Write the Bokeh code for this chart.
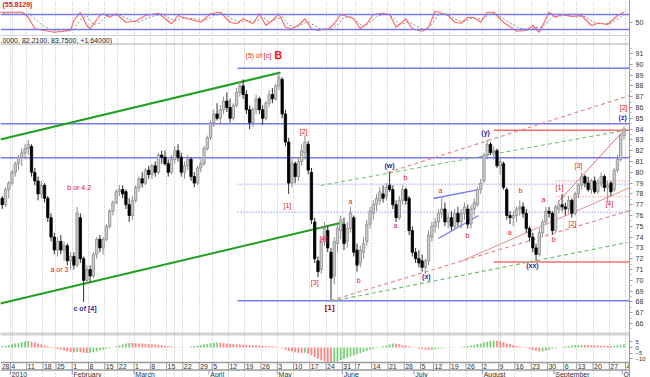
from bokeh.plotting import figure
from bokeh.layouts import column
from bokeh.models import Range1d, FixedTicker, Span, Grid, ColumnDataSource
from bokeh.core.properties import value
from bokeh.embed import file_html
from bokeh.resources import INLINE

FONT = value("Liberation Sans")

# ---------------- price data (trading day index, Dec 28 2009 = -4, Jan 4 2010 = 0) ----------------
first_day = -4
opens = [77.0, 77.6, 77.0, 78.4, 79.0, 80.0, 80.8, 81.4, 81.8, 82.2, 82.4, 80.0, 79.2, 78.0, 78.8, 77.6, 75.8, 74.0, 72.8, 73.6,
         72.8, 73.2, 71.8, 72.2, 71.4, 75.8, 72.0, 70.0, 71.0, 70.4, 72.4, 73.8, 73.0, 73.8, 75.0, 76.4, 77.2, 78.2, 78.4, 78.2,
         77.0, 76.0, 77.4, 78.6, 79.4, 79.0, 80.2, 79.8, 80.6, 80.0, 81.6,
         81.4, 80.8, 80.0, 81.2, 82.0, 81.4, 80.0, 80.6, 81.2, 79.6, 79.0, 80.4, 80.8, 82.2, 83.2, 84.6, 85.4, 85.0, 85.8, 86.6,
         86.0, 85.0, 86.2, 87.4, 88.0, 87.2, 85.8, 84.6, 85.8, 86.8, 85.8, 85.0, 86.4, 87.2, 86.8, 88.0, 88.6, 85.4, 82.8, 79.0,
         80.8, 79.6, 81.0, 81.8, 82.6, 80.0, 75.4, 71.8, 71.0, 73.6, 74.6, 72.6, 70.4, 73.4, 74.6, 75.2, 73.6, 74.8, 75.8, 72.8,
         71.6, 72.6, 73.6, 75.2, 76.2, 77.0, 77.4, 78.0, 77.8, 78.8, 78.4, 77.0, 75.8, 77.4, 78.4, 77.6, 74.6, 72.6, 72.0, 71.8,
         71.2, 71.8, 74.0, 75.0, 75.4, 76.2, 76.6, 75.4, 75.8, 75.0, 76.2, 75.4, 76.2, 76.6, 75.2, 76.6, 77.0, 78.4, 79.2, 81.6,
         82.6, 81.8, 82.0, 80.6, 80.8, 78.4, 76.0, 75.8, 76.0, 76.6, 76.8, 76.2, 74.8, 74.0, 73.0, 72.4, 74.4, 75.4, 76.4, 76.2,
         74.6, 76.6, 77.0, 76.8, 76.6, 77.4, 76.2, 78.0, 78.8, 79.6, 79.0, 78.4, 79.2, 78.2, 79.0, 79.6, 78.6, 79.0, 78.4, 80.2,
         81.2, 83.4]
highs = [78.0, 77.8, 78.6, 79.2, 80.2, 81.0, 81.6, 82.2, 82.6, 83.0, 82.6, 80.4, 79.6, 79.2, 79.0, 77.8, 76.2, 74.4, 74.0, 74.2,
         73.6, 73.4, 72.6, 72.6, 76.8, 76.2, 72.2, 71.4, 71.4, 72.6, 74.0, 74.2, 74.0, 75.2, 76.6, 77.4, 78.4, 78.8, 78.8, 78.4,
         77.6, 77.8, 78.8, 79.6, 80.0, 80.4, 80.6, 80.8, 81.0, 81.8, 82.0,
         82.0, 81.2, 81.6, 82.4, 82.6, 81.8, 81.0, 81.6, 81.4, 80.0, 80.6, 81.2, 82.4, 83.4, 84.8, 85.8, 86.4, 86.2, 87.0, 87.4,
         86.8, 86.4, 87.8, 88.4, 88.6, 87.6, 86.2, 86.0, 87.2, 87.0, 86.2, 86.6, 87.6, 87.8, 88.2, 89.2, 88.8, 85.8, 83.2, 81.2,
         81.0, 81.4, 82.6, 83.4, 82.9, 80.4, 75.8, 72.2, 74.0, 75.4, 75.0, 73.0, 74.0, 75.2, 76.0, 75.8, 75.4, 76.8, 76.0, 73.4,
         73.2, 74.0, 75.6, 76.8, 77.4, 78.0, 78.6, 78.8, 79.0, 80.0, 78.8, 77.4, 77.8, 78.8, 78.6, 77.8, 75.0, 73.0, 72.8, 72.4,
         72.0, 74.6, 75.4, 75.8, 76.6, 77.6, 77.2, 76.2, 76.4, 76.6, 76.8, 76.6, 77.2, 77.0, 77.0, 77.6, 78.6, 79.4, 81.8, 83.0,
         82.8, 82.4, 82.2, 81.4, 81.0, 78.6, 76.4, 76.4, 76.8, 77.4, 77.2, 76.6, 75.0, 74.4, 73.4, 74.8, 75.6, 76.8, 76.8, 76.4,
         77.0, 77.4, 78.0, 77.2, 77.8, 77.6, 78.2, 79.0, 80.0, 79.8, 79.6, 79.4, 79.6, 79.4, 80.0, 79.8, 79.2, 79.2, 80.4, 81.6,
         83.6, 84.2]
lows = [76.6, 76.6, 76.8, 77.6, 78.8, 79.6, 80.2, 80.6, 81.2, 81.6, 79.6, 78.8, 77.4, 77.6, 77.2, 75.4, 73.6, 72.4, 72.2, 72.4,
        71.8, 71.4, 71.0, 71.0, 71.2, 71.6, 68.0, 69.6, 69.8, 70.2, 72.0, 72.6, 72.4, 73.6, 74.8, 76.0, 77.0, 77.8, 77.6, 76.6,
        75.4, 75.6, 77.2, 78.2, 78.6, 78.8, 79.4, 79.4, 79.6, 79.8, 80.8,
        80.6, 79.6, 79.8, 80.8, 81.0, 79.6, 79.4, 80.2, 79.2, 78.6, 78.8, 80.0, 80.6, 82.0, 83.0, 84.2, 84.8, 84.4, 85.4, 85.6,
        84.6, 84.8, 86.0, 87.0, 86.8, 85.4, 84.0, 84.2, 85.4, 85.4, 84.4, 84.8, 86.0, 86.4, 86.6, 87.6, 85.0, 82.4, 78.0, 78.6,
        79.0, 79.2, 80.6, 81.2, 79.8, 75.2, 71.6, 70.3, 70.6, 73.2, 72.6, 68.2, 69.6, 72.6, 73.8, 72.8, 73.0, 74.4, 72.2, 70.8,
        71.2, 72.0, 73.2, 74.8, 75.6, 76.4, 77.0, 77.2, 77.4, 78.2, 76.6, 75.4, 75.6, 77.0, 77.0, 74.2, 72.2, 71.6, 71.2, 70.8,
        70.6, 71.4, 73.6, 74.4, 74.8, 75.8, 75.0, 74.8, 74.6, 74.8, 75.0, 74.8, 75.6, 74.8, 74.8, 76.0, 76.8, 78.0, 79.0, 81.2,
        81.6, 81.2, 80.4, 79.8, 78.4, 75.6, 75.2, 75.0, 75.4, 76.0, 75.8, 74.4, 73.6, 72.6, 71.8, 72.2, 74.0, 75.2, 75.8, 74.2,
        74.4, 76.2, 76.4, 76.0, 76.2, 75.8, 76.0, 77.6, 78.4, 78.6, 78.2, 78.0, 78.0, 78.0, 78.6, 78.2, 77.2, 77.8, 78.2, 80.0,
        81.0, 83.0]
closes = [77.6, 77.0, 78.4, 79.0, 80.0, 80.8, 81.4, 81.8, 82.2, 82.6, 80.0, 79.2, 78.0, 78.8, 77.6, 75.8, 74.0, 72.8, 73.6, 72.8,
          73.2, 71.8, 72.2, 71.4, 76.2, 72.0, 70.0, 71.0, 70.4, 72.4, 73.8, 73.0, 73.8, 75.0, 76.4, 77.2, 78.2, 78.4, 78.0, 77.0,
          76.0, 77.4, 78.6, 79.4, 79.0, 80.2, 79.8, 80.6, 80.0, 81.6, 81.4,
          80.8, 80.0, 81.2, 82.0, 81.4, 80.0, 80.6, 81.2, 79.6, 79.0, 80.4, 80.8, 82.2, 83.2, 84.6, 85.4, 85.0, 85.8, 86.6, 86.0,
          85.0, 86.2, 87.4, 88.0, 87.2, 85.8, 84.6, 85.8, 86.8, 85.8, 85.0, 86.4, 87.2, 86.8, 88.0, 88.8, 85.4, 82.8, 79.0, 80.8,
          79.6, 81.0, 82.0, 82.8, 80.2, 75.6, 72.0, 70.8, 73.6, 74.8, 73.0, 70.2, 73.6, 74.8, 75.6, 73.4, 74.8, 76.2, 72.6, 71.4,
          72.8, 73.4, 75.2, 76.4, 77.0, 77.6, 78.2, 77.6, 78.6, 78.4, 77.0, 75.8, 77.4, 78.4, 77.4, 74.6, 72.6, 72.0, 71.6, 71.2,
          71.8, 74.2, 75.0, 75.4, 76.2, 76.6, 75.4, 75.8, 75.0, 76.2, 75.4, 76.2, 76.8, 75.2, 76.6, 77.2, 78.4, 79.0, 81.6, 82.6,
          81.8, 82.0, 80.6, 81.0, 78.6, 76.0, 75.8, 76.0, 76.6, 76.8, 76.2, 74.8, 74.0, 73.0, 72.4, 74.4, 75.4, 76.4, 76.2, 74.6,
          76.8, 77.0, 76.8, 76.6, 77.4, 76.2, 78.0, 78.8, 79.6, 79.0, 78.4, 79.2, 78.2, 79.0, 79.6, 78.6, 78.8, 78.2, 80.2, 81.2,
          83.4, 84.0]

# ---------------- oscillator (top panel) ----------------
osc_day = [-4, 3, 5, 7, 10, 13, 18, 19, 21, 23, 24, 27, 28, 30, 32, 35, 38, 41, 45, 49, 51, 54, 58, 61, 64, 67, 69, 71, 74, 76,
           78, 80, 82, 84, 86, 88, 90, 92, 94, 96, 97, 99, 101, 103, 105, 107, 109, 111, 114, 116, 118, 121, 123, 126, 128, 130,
           132, 134, 136, 138, 140, 142, 144, 146, 148, 151, 155, 158, 160, 162, 165, 167, 169, 172, 175, 178, 180, 183, 186, 188]
osc_fast = [89, 89, 69, 23, 16, 9, 16, 56, 89, 36, 23, 76, 83, 69, 83, 49, 53, 76, 85, 43, 76, 63, 49, 83, 89, 49, 43, 63, 43, 83,
            36, 56, 83, 29, 23, 36, 63, 23, 16, 23, 20, 43, 80, 72, 63, 23, 43, 80, 85, 80, 29, 63, 23, 13, 29, 93,
            85, 76, 49, 45, 69, 67, 49, 89, 89, 49, 13, 16, 36, 9, 89, 69, 80, 72, 76, 36, 45, 40, 76, 89]
sig_day = [-4, 3, 6, 9, 12, 15, 19, 21, 23, 25, 27, 29, 31, 33, 36, 39, 42, 46, 50, 52, 55, 59, 62, 65, 68, 70, 72, 75, 77, 79,
           81, 83, 85, 87, 89, 91, 93, 95, 98, 100, 102, 104, 106, 108, 110, 112, 115, 117, 119, 122, 124, 127, 129, 131, 133,
           135, 137, 139, 141, 143, 145, 147, 149, 152, 156, 159, 161, 163, 166, 168, 170, 173, 176, 179, 181, 184, 187, 188]
osc_slow = [85, 88, 75, 40, 18, 12, 20, 60, 75, 40, 45, 75, 78, 78, 60, 50, 68, 82, 55, 65, 65, 55, 75, 85, 60, 48, 55, 52, 70, 50,
            60, 70, 40, 28, 40, 50, 35, 20, 22, 38, 68, 72, 50, 32, 50, 72, 82, 70, 40, 50, 35, 18, 40, 80, 84,
            72, 55, 52, 65, 62, 65, 85, 80, 55, 25, 20, 28, 30, 70, 74, 76, 73, 72, 48, 44, 45, 70, 80]
osc_levels = [80, 20]

# ---------------- histogram (bottom panel) ----------------
hist = [0.5, 1.0, 1.5, 2.2, 2.8, 3.4, 4.0, 4.6, 5.2, 5.6, 5.0, 4.4, 3.6, 2.8, 2.0, 1.2, 0.4, -0.6, -1.4, -2.2,
        -2.8, -3.4, -3.9, -4.2, -3.8, -4.1, -4.6, -4.9, -4.6, -4.1, -3.4, -2.7, -2.0, -1.3, -0.6, 0.2, 0.9, 1.7, 2.6, 3.4,
        4.0, 3.9, 3.7, 3.6, 3.4, 3.3, 3.1, 2.9, 2.7, 2.4, 2.0, 1.6, 1.2, 0.8, 0.5, 0.3, 0.2, 0.1, 0.3, 0.8,
        1.3, 1.8, 2.3, 2.8, 3.3, 3.7, 4.1, 4.3, 4.1, 3.8, 3.5, 3.3, 3.1, 2.9, 2.7, 2.5, 2.4, 2.2, 2.0, 1.9,
        1.7, 1.5, 1.4, 1.2, 1.0, 0.7, 0.3, -0.8, -2.0, -3.0, -3.5, -4.1, -4.5, -4.9, -4.7, -5.4, -6.8, -8.5, -10.0, -11.2,
        -12.0, -12.8, -13.5, -13.0, -12.0, -11.0, -10.0, -9.0, -8.0, -7.0, -6.0, -5.0, -4.0, -3.0, -2.0, -1.3, -0.5, 0.3, 1.0, 1.8,
        2.6, 3.4, 3.2, 2.8, 2.3, 1.8, 1.2, 0.5, -0.3, -1.0, -1.6, -2.0, -2.2, -2.0, -1.6, -1.2, -0.8, -0.5, -0.3, 0.1,
        0.2, 0.1, 0.5, 0.9, 1.3, 1.8, 2.4, 3.0, 3.6, 4.3, 5.1, 5.8, 6.2, 6.0, 5.4, 4.6, 3.8, 3.0, 2.2, 1.5,
        0.8, 0.2, -0.6, -1.4, -2.2, -3.0, -3.6, -3.4, -2.8, -2.1, -1.4, -0.7, -0.1, 0.5, 1.0, 1.4, 1.8, 2.0, 2.2, 2.3,
        2.2, 2.1, 2.0, 1.9, 1.8, 1.6, 1.5, 1.4, 1.3, 1.5, 1.9, 2.4, 2.9]

# ---------------- date axis ----------------
week_day = [-4, 0, 5, 10, 14, 19, 24, 29, 33, 38, 43, 48, 53, 58, 62, 67, 72, 77, 82, 87, 92, 97, 102, 106, 111, 116, 121,
            126, 130, 135, 140, 145, 150, 155, 160, 165, 170, 174, 179, 184, 189]
week_label = ["28", "4", "11", "18", "25", "1", "8", "15", "22", "1", "8", "15", "22", "29", "5", "12", "19", "26", "3", "10",
              "17", "24", "31", "7", "14", "21", "28", "5", "12", "19", "26", "2", "9", "16", "23", "30", "6", "13", "20",
              "27", "4"]
month_day = [0, 19, 38, 61, 82, 102, 124, 145, 167, 188]
month_label = ["2010", "February", "March", "April", "May", "June", "July", "August", "September", "Oct"]

# ---------------- annotations in main panel ----------------
hl_k0 = [69.3, -3.6, -3.6, 69.3, 148.0, 148.0, 69.3, 69.3, 167.0, 167.0]
hl_k1 = [190.0] * 10
hl_v = [89.64, 84.5, 81.35, 68.1, 83.9, 71.7, 78.9, 76.3, 79.2, 77.75]
hl_color = ["#7878f0", "#7878f0", "#7878f0", "#7878f0", "#f07070", "#f07070", "#9a9af0", "#9a9af0", "#f09090", "#f09090"]
hl_dash = ["solid", "solid", "solid", "solid", "solid", "solid", "1 2", "1 2", "1 2", "1 2"]
hl_width = [1.6, 1.6, 1.6, 1.6, 1.4, 1.4, 1.4, 1.4, 1.4, 1.4]

tl_k0 = [-3.6, -3.6, 94.8, 115.4, 97.9, 97.9, 167.6, 137.8, 129.5, 131.0]
tl_v0 = [83.04, 67.85, 78.78, 79.98, 68.13, 68.04, 77.2, 71.74, 77.57, 73.87]
tl_k1 = [82.5, 101.5, 187.9, 189.7, 189.7, 189.1, 187.9, 190.0, 143.3, 143.3]
tl_v1 = [89.24, 75.35, 83.87, 87.11, 76.46, 73.5, 83.87, 78.6, 78.4, 76.0]
tl_color = ["#20a020", "#20a020", "#70c070", "#e09090", "#e09090", "#70c070", "#e07070", "#e09090", "#7878f0", "#7878f0"]
tl_dash = ["solid", "solid", "4 3", "4 3", "4 3", "4 3", "solid", "solid", "solid", "solid"]
tl_width = [2, 2, 1.2, 1.2, 1.2, 1.2, 1, 1, 1.4, 1.4]

red_lbl = ["b or 4.2", "a or 3", "[1]", "[2]", "[3]", "[4]", "a", "b", "a", "b", "a", "b", "a", "b", "a", "b",
           "[1]", "[2]", "[3]", "[4]", "[2]"]
red_k = [17.0, 11.8, 84.6, 89.6, 93.0, 95.7, 104.0, 106.5, 117.8, 120.9, 131.6, 139.9, 152.9, 156.2, 163.3, 166.4,
         168.2, 172.2, 174.0, 183.5, 187.9]
red_v = [78.6, 71.0, 76.93, 83.78, 69.8, 73.87, 77.3, 70.0, 75.1, 79.5, 78.3, 74.15, 74.4, 78.3, 77.5, 73.8,
         78.6, 75.3, 80.6, 77.1, 86.0]
red_align = ["left", "left"] + ["center"] * 19
blue_lbl = ["c of [4]", "(w)", "(x)", "(y)", "(xx)", "(z)"]
blue_k = [18.9, 116.0, 127.3, 145.5, 159.9, 187.6]
blue_v = [67.4, 80.6, 70.35, 83.7, 71.4, 85.07]
blue_align = ["left", "center", "center", "center", "center", "center"]
dark_lbl = ["[1]"]
dark_k = [97.6]
dark_v = [67.45]

# ---------------- geometry ----------------
X0, DX = 11.5, 3.255          # pixel of day 0, pixels per trading day
W = 650
RB = 21
k_lo, k_hi = -X0 / DX, (629 - X0) / DX
xr = Range1d(k_lo, k_hi)

days = list(range(first_day, first_day + len(closes)))
assert len(opens) == len(highs) == len(lows) == len(closes) == len(hist) == 193


def base_fig(h, y0, y1):
    p = figure(width=W, height=h, x_range=xr, y_range=Range1d(y0, y1), output_backend="svg",
               toolbar_location=None, x_axis_location=None, y_axis_location="right",
               min_border_left=0, min_border_right=RB, min_border_top=0, min_border_bottom=0)
    p.outline_line_color = None
    p.ygrid.grid_line_color = None
    p.background_fill_color = "white"
    p.border_fill_color = "white"
    ax = p.yaxis[0]
    ax.major_label_text_font = "Liberation Sans"
    ax.major_label_text_font_size = "7px"
    ax.major_label_text_color = "#333333"
    ax.axis_line_color = "#9a9a9a"
    ax.major_tick_line_color = "#9a9a9a"
    ax.minor_tick_line_color = "#b0b0b0"
    ax.major_tick_out = 3
    ax.major_tick_in = 0
    ax.minor_tick_out = 2
    ax.minor_tick_in = 0
    ax.major_label_standoff = 3
    g = Grid(dimension=0, ticker=FixedTicker(ticks=[d - 0.5 for d in week_day]),
             grid_line_color="#b8b8b8", grid_line_dash="1 2", grid_line_width=1)
    p.add_layout(g)
    return p


# ---- top oscillator panel: frame y 0..36 px, value = 50 + (21.5 - ypx) * 4
top = base_fig(36, -8, 136)
top.yaxis[0].ticker = FixedTicker(ticks=[50], minor_ticks=[])
for lv in osc_levels:
    top.add_layout(Span(location=lv, dimension="width", line_color="#7878f0", line_width=1.6))
top.line(sig_day, osc_slow, line_color="#8a8a8a", line_width=1, line_dash="2 2")
top.line(osc_day, osc_fast, line_color="#ff6a6a", line_width=1.2)
top.add_layout(Span(location=-6, dimension="width", line_color="#a8a8a8", line_width=2, line_dash="1 1"))
top.text(x=[k_lo + 0.6], y=[120], text=["(55.8129)"], text_font=FONT, text_font_size="7px",
         text_font_style="bold", text_color="#e02020", text_baseline="middle")

# ---- main price panel: frame y 36..330 px
main = base_fig(294, 91 - (330 - 53) / 10.8, 91 + (53 - 36) / 10.8)
main.yaxis[0].ticker = FixedTicker(ticks=list(range(66, 92)), minor_ticks=[t + 0.5 for t in range(65, 92)])
main.add_layout(Span(location=91 + (53 - 43.5) / 10.8, dimension="width", line_color="#a8a8a8",
                     line_width=2, line_dash="1 1"))
main.text(x=[k_lo], y=[91 + (53 - 39.5) / 10.8], text=[".0000, 82.2100, 83.7500, +1.64000)"], text_font=FONT,
          text_font_size="7px", text_color="#222222", text_baseline="middle")

for a, b, v, c, d, w in zip(hl_k0, hl_k1, hl_v, hl_color, hl_dash, hl_width):
    main.segment(x0=[a], y0=[v], x1=[b], y1=[v], line_color=c, line_width=w, line_dash=d)
for a, va, b, vb, c, d, w in zip(tl_k0, tl_v0, tl_k1, tl_v1, tl_color, tl_dash, tl_width):
    main.segment(x0=[a], y0=[va], x1=[b], y1=[vb], line_color=c, line_width=w, line_dash=d)

up = dict(x=[], o=[], h=[], l=[], c=[])
dn = dict(x=[], o=[], h=[], l=[], c=[])
for d, o, h, l, c in zip(days, opens, highs, lows, closes):
    tgt = up if c >= o else dn
    tgt["x"].append(d); tgt["o"].append(o); tgt["h"].append(h); tgt["l"].append(l); tgt["c"].append(c)
su, sd = ColumnDataSource(up), ColumnDataSource(dn)
main.segment(x0="x", y0="l", x1="x", y1="h", source=su, line_color="#8c8c8c", line_width=1)
main.segment(x0="x", y0="l", x1="x", y1="h", source=sd, line_color="#303030", line_width=1)
main.vbar(x="x", bottom="o", top="c", width=0.72, source=su, fill_color="#cfcfcf", line_color="#8c8c8c", line_width=0.8)
main.vbar(x="x", bottom="c", top="o", width=0.72, source=sd, fill_color="#000000", line_color="#000000", line_width=0.8)

main.text(x=red_k, y=red_v, text=red_lbl, text_font=FONT, text_font_size="7px", text_color="#e02020",
          text_align=red_align, text_baseline="middle")
main.text(x=blue_k, y=blue_v, text=blue_lbl, text_font=FONT, text_font_size="7px", text_color="#2a2a90",
          text_font_style="bold", text_align=blue_align, text_baseline="middle")
main.text(x=dark_k, y=dark_v, text=dark_lbl, text_font=FONT, text_font_size="8px", text_color="#a00000",
          text_font_style="bold", text_align="center", text_baseline="middle")
main.text(x=[75.7], y=[90.8], text=["(5) of [c]"], text_font=FONT, text_font_size="7px", text_color="#e02020",
          text_align="center", text_baseline="middle")
main.text(x=[81.8], y=[90.85], text=["B"], text_font=FONT, text_font_size="11px", text_font_style="bold",
          text_color="#ff1010", text_align="center", text_baseline="middle")

# ---- bottom histogram + date labels: frame y 330..377 px, zero at 347 px, 0.877 units / px
U = 5 / 5.7
bot = base_fig(47, -(377 - 347) * U, (347 - 330) * U)
bot.yaxis[0].ticker = FixedTicker(ticks=[5, 0, -5, -10], minor_ticks=[])
bot.yaxis[0].major_label_text_font_size = "6px"
hc = ["#ff7070" if i > 0 and hist[i] < hist[i - 1] else "#60c860" for i in range(len(hist))]
bot.vbar(x=days, bottom=0, top=hist, width=0.55, fill_color=hc, line_color=None, fill_alpha=0.85)
bot.add_layout(Span(location=(347 - 333.5) * U, dimension="width", line_color="#a8a8a8", line_width=3, line_dash="1 1"))
row_top, row_bot = -(362 - 347) * U, -(369.5 - 347) * U
bot.quad(left=k_lo, right=k_hi, bottom=row_bot, top=row_top, fill_color="white", line_color=None)
bot.segment(x0=[k_lo, k_lo], y0=[row_top, row_bot], x1=[k_hi, k_hi], y1=[row_top, row_bot],
            line_color="#9a9a9a", line_width=1.5)
bot.segment(x0=[d - 0.5 for d in week_day], y0=row_top, x1=[d - 0.5 for d in week_day], y1=row_bot,
            line_color="#9a9a9a", line_width=1)
week_x = [max(d - 0.2, k_lo + 0.35) for d in week_day]
bot.text(x=week_x, y=-(365.8 - 347) * U, text=week_label, text_font=FONT,
         text_font_size="7px", text_color="#333333", text_baseline="middle")
bot.segment(x0=[d - 0.5 for d in month_day], y0=row_bot, x1=[d - 0.5 for d in month_day], y1=-(374 - 347) * U,
            line_color="#9090d0", line_width=1)
bot.text(x=[d - 0.1 for d in month_day], y=-(373.5 - 347) * U, text=month_label, text_font=FONT,
         text_font_size="7px", text_color="#333333", text_baseline="middle")

layout = column(top, main, bot, spacing=0)
open("out.html", "w").write(file_html(layout, INLINE))
